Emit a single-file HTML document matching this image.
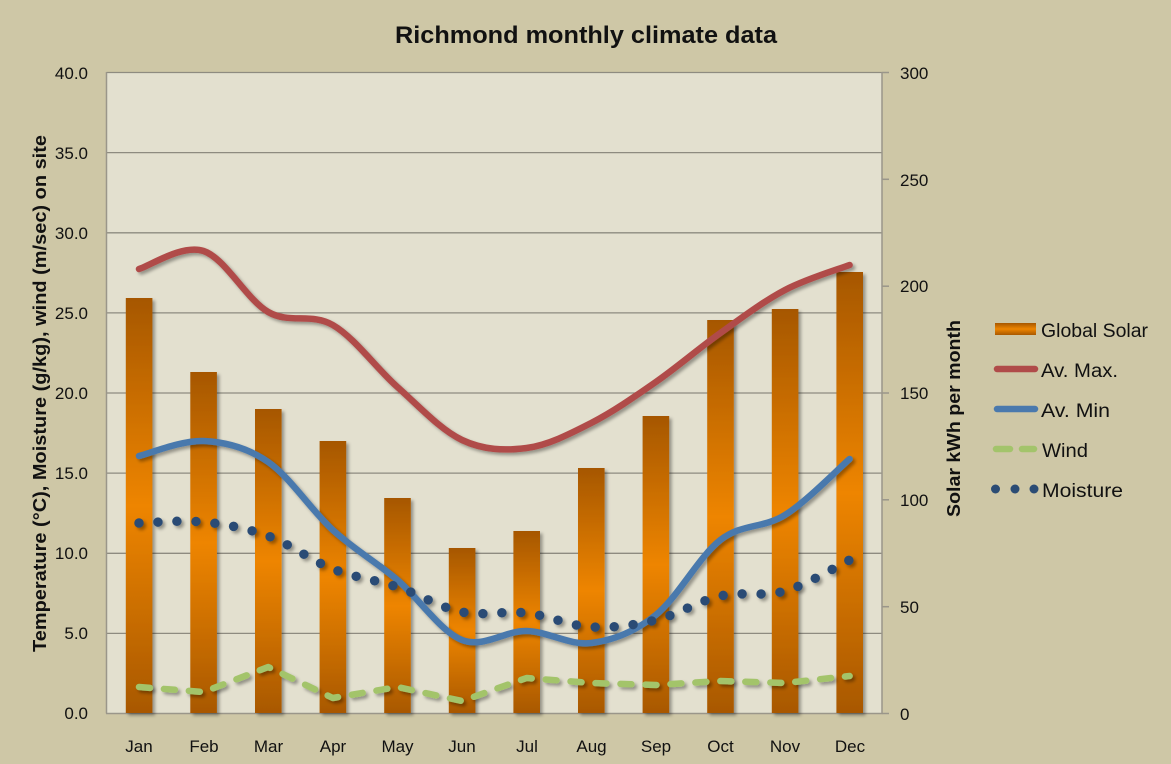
<!DOCTYPE html>
<html><head><meta charset="utf-8"><style>
html,body{margin:0;padding:0;background:#CEC7A6;}
svg{display:block;}
text{font-family:"Liberation Sans",sans-serif;fill:#111;}
</style></head><body>
<svg width="1171" height="764" viewBox="0 0 1171 764" xmlns="http://www.w3.org/2000/svg">
<defs>
<linearGradient id="bg" x1="0" y1="0" x2="0" y2="1">
<stop offset="0" stop-color="#A65700"/>
<stop offset="0.5" stop-color="#EE8500"/>
<stop offset="1" stop-color="#A85800"/>
</linearGradient>
<filter id="sh" x="-20%" y="-20%" width="140%" height="140%">
<feDropShadow dx="2.5" dy="2.5" stdDeviation="1.6" flood-color="#000" flood-opacity="0.35"/>
</filter>
</defs>
<rect x="0" y="0" width="1171" height="764" fill="#CEC7A6"/>
<rect x="106.5" y="72.5" width="775.5" height="641" fill="#E3E0CF"/>
<g stroke="#8E8B80" stroke-width="1.3">
<line x1="106.5" y1="72.5" x2="882" y2="72.5"/>
<line x1="106.5" y1="152.6" x2="882" y2="152.6"/>
<line x1="106.5" y1="232.8" x2="882" y2="232.8"/>
<line x1="106.5" y1="312.9" x2="882" y2="312.9"/>
<line x1="106.5" y1="393" x2="882" y2="393"/>
<line x1="106.5" y1="473.1" x2="882" y2="473.1"/>
<line x1="106.5" y1="553.3" x2="882" y2="553.3"/>
<line x1="106.5" y1="633.4" x2="882" y2="633.4"/>
</g>
<g stroke="#9A968A" stroke-width="1.5">
<line x1="106.5" y1="72" x2="106.5" y2="713.5"/>
<line x1="106" y1="713.5" x2="882.5" y2="713.5"/>
<line x1="882" y1="72" x2="882" y2="714"/>
<line x1="882" y1="72.5" x2="889" y2="72.5"/>
<line x1="882" y1="179.3" x2="889" y2="179.3"/>
<line x1="882" y1="286.2" x2="889" y2="286.2"/>
<line x1="882" y1="393" x2="889" y2="393"/>
<line x1="882" y1="499.8" x2="889" y2="499.8"/>
<line x1="882" y1="606.7" x2="889" y2="606.7"/>
<line x1="882" y1="713.5" x2="889" y2="713.5"/>
</g>
<!-- bars -->
<g fill="url(#bg)" filter="url(#sh)">
<rect x="125.8" y="298" width="26.6" height="415"/>
<rect x="190.3" y="372" width="26.6" height="341"/>
<rect x="255" y="409" width="26.6" height="304"/>
<rect x="319.6" y="441" width="26.6" height="272"/>
<rect x="384.2" y="498" width="26.6" height="215"/>
<rect x="448.8" y="548" width="26.6" height="165"/>
<rect x="513.4" y="531" width="26.6" height="182"/>
<rect x="578" y="468" width="26.6" height="245"/>
<rect x="642.6" y="416" width="26.6" height="297"/>
<rect x="707.2" y="320" width="26.6" height="393"/>
<rect x="771.8" y="309" width="26.6" height="404"/>
<rect x="836.4" y="272" width="26.6" height="441"/>
</g>
<!-- lines -->
<g fill="none" filter="url(#sh)" stroke-linecap="round">
<path stroke="#B04B49" stroke-width="6.5" d="M139,269 C149.77,266 182.07,243.83 203.6,251 C225.13,258.17 246.67,299.67 268.2,312 C289.73,324.33 311.27,312.5 332.8,325 C354.33,337.5 375.87,367.83 397.4,387 C418.93,406.17 440.47,429.83 462,440 C483.53,450.17 505.07,450.83 526.6,448 C548.13,445.17 569.67,434 591.2,423 C612.73,412 634.27,397 655.8,382 C677.33,367 698.87,348.33 720.4,333 C741.930,317.67 763.47,301.33 785,290 C806.53,278.67 838.83,269.17 849.6,265"/>
<path stroke="#4A79AD" stroke-width="6.5" d="M139,456 C149.77,453.5 182.07,440 203.6,441 C225.13,442 246.67,447.17 268.2,462 C289.73,476.83 311.27,510.33 332.8,530 C354.33,549.67 375.87,561.67 397.4,580 C418.93,598.33 440.47,631.5 462,640 C483.53,648.5 505.07,630.5 526.6,631 C548.13,631.5 569.67,645.67 591.2,643 C612.73,640.33 634.27,632.17 655.8,615 C677.33,597.83 698.87,556.67 720.4,540 C741.93,523.33 763.47,528.5 785,515 C806.53,501.5 838.83,468.33 849.6,459"/>
<polyline stroke="#A3C46B" stroke-width="6.5" stroke-dasharray="11 14" stroke-linejoin="round" points="139,687 203.6,692 268.2,667 332.8,698 397.4,687 462,701 526.6,678 591.2,683 655.8,685 720.4,681 785,683 849.6,676"/>
<path stroke="#2B4C74" stroke-width="9.5" stroke-dasharray="0 19" d="M139,523 C149.77,522.83 182.07,519.83 203.6,522 C225.13,524.17 246.67,528.17 268.2,536 C289.73,543.83 311.27,560.5 332.8,569 C354.33,577.5 375.87,579.83 397.4,587 C418.93,594.17 440.47,607.67 462,612 C483.53,616.33 505.07,610.5 526.6,613 C548.13,615.5 569.67,625.83 591.2,627 C612.73,628.17 634.27,625.17 655.8,620 C677.33,614.83 698.87,600.83 720.4,596 C741.93,591.17 763.47,597 785,591 C806.53,585 838.83,565.17 849.6,560"/>
</g>
<!-- title -->
<text x="395" y="43" font-size="24" font-weight="bold" textLength="382" lengthAdjust="spacingAndGlyphs">Richmond monthly climate data</text>
<!-- left tick labels -->
<g font-size="17" text-anchor="end">
<text x="88" y="79">40.0</text>
<text x="88" y="159">35.0</text>
<text x="88" y="239">30.0</text>
<text x="88" y="319">25.0</text>
<text x="88" y="399">20.0</text>
<text x="88" y="479">15.0</text>
<text x="88" y="559">10.0</text>
<text x="88" y="639">5.0</text>
<text x="88" y="719">0.0</text>
</g>
<!-- right tick labels -->
<g font-size="17">
<text x="900" y="79">300</text>
<text x="900" y="186">250</text>
<text x="900" y="292">200</text>
<text x="900" y="399">150</text>
<text x="900" y="506">100</text>
<text x="900" y="613">50</text>
<text x="900" y="720">0</text>
</g>
<!-- x labels -->
<g font-size="17" text-anchor="middle">
<text x="139" y="752">Jan</text>
<text x="204" y="752">Feb</text>
<text x="268.5" y="752">Mar</text>
<text x="333" y="752">Apr</text>
<text x="397.5" y="752">May</text>
<text x="462" y="752">Jun</text>
<text x="527" y="752">Jul</text>
<text x="591.5" y="752">Aug</text>
<text x="656" y="752">Sep</text>
<text x="720.5" y="752">Oct</text>
<text x="785" y="752">Nov</text>
<text x="850" y="752">Dec</text>
</g>
<!-- axis titles -->
<text transform="translate(46,652) rotate(-90)" font-size="18" font-weight="bold" textLength="517" lengthAdjust="spacingAndGlyphs">Temperature (°C), Moisture (g/kg), wind (m/sec) on site</text>
<text transform="translate(960,517) rotate(-90)" font-size="18" font-weight="bold" textLength="197" lengthAdjust="spacingAndGlyphs">Solar kWh per month</text>
<!-- legend -->
<rect x="995" y="323" width="41" height="12" fill="url(#bg)"/>
<line x1="997" y1="369" x2="1035" y2="369" stroke="#B04B49" stroke-width="6.5" stroke-linecap="round"/>
<line x1="997" y1="409" x2="1035" y2="409" stroke="#4A79AD" stroke-width="6.5" stroke-linecap="round"/>
<line x1="996" y1="449" x2="1010" y2="449" stroke="#A3C46B" stroke-width="6.5" stroke-linecap="round"/>
<line x1="1022" y1="449" x2="1034" y2="449" stroke="#A3C46B" stroke-width="6.5" stroke-linecap="round"/>
<circle cx="995.5" cy="489" r="4.5" fill="#2B4C74"/>
<circle cx="1015" cy="489" r="4.5" fill="#2B4C74"/>
<circle cx="1034" cy="489" r="4.5" fill="#2B4C74"/>
<g font-size="19">
<text x="1041" y="337" textLength="107" lengthAdjust="spacingAndGlyphs">Global Solar</text>
<text x="1041" y="377" textLength="77" lengthAdjust="spacingAndGlyphs">Av. Max.</text>
<text x="1041" y="417" textLength="69" lengthAdjust="spacingAndGlyphs">Av. Min</text>
<text x="1042" y="457" textLength="46" lengthAdjust="spacingAndGlyphs">Wind</text>
<text x="1042" y="497" textLength="81" lengthAdjust="spacingAndGlyphs">Moisture</text>
</g>
</svg>
</body></html>
